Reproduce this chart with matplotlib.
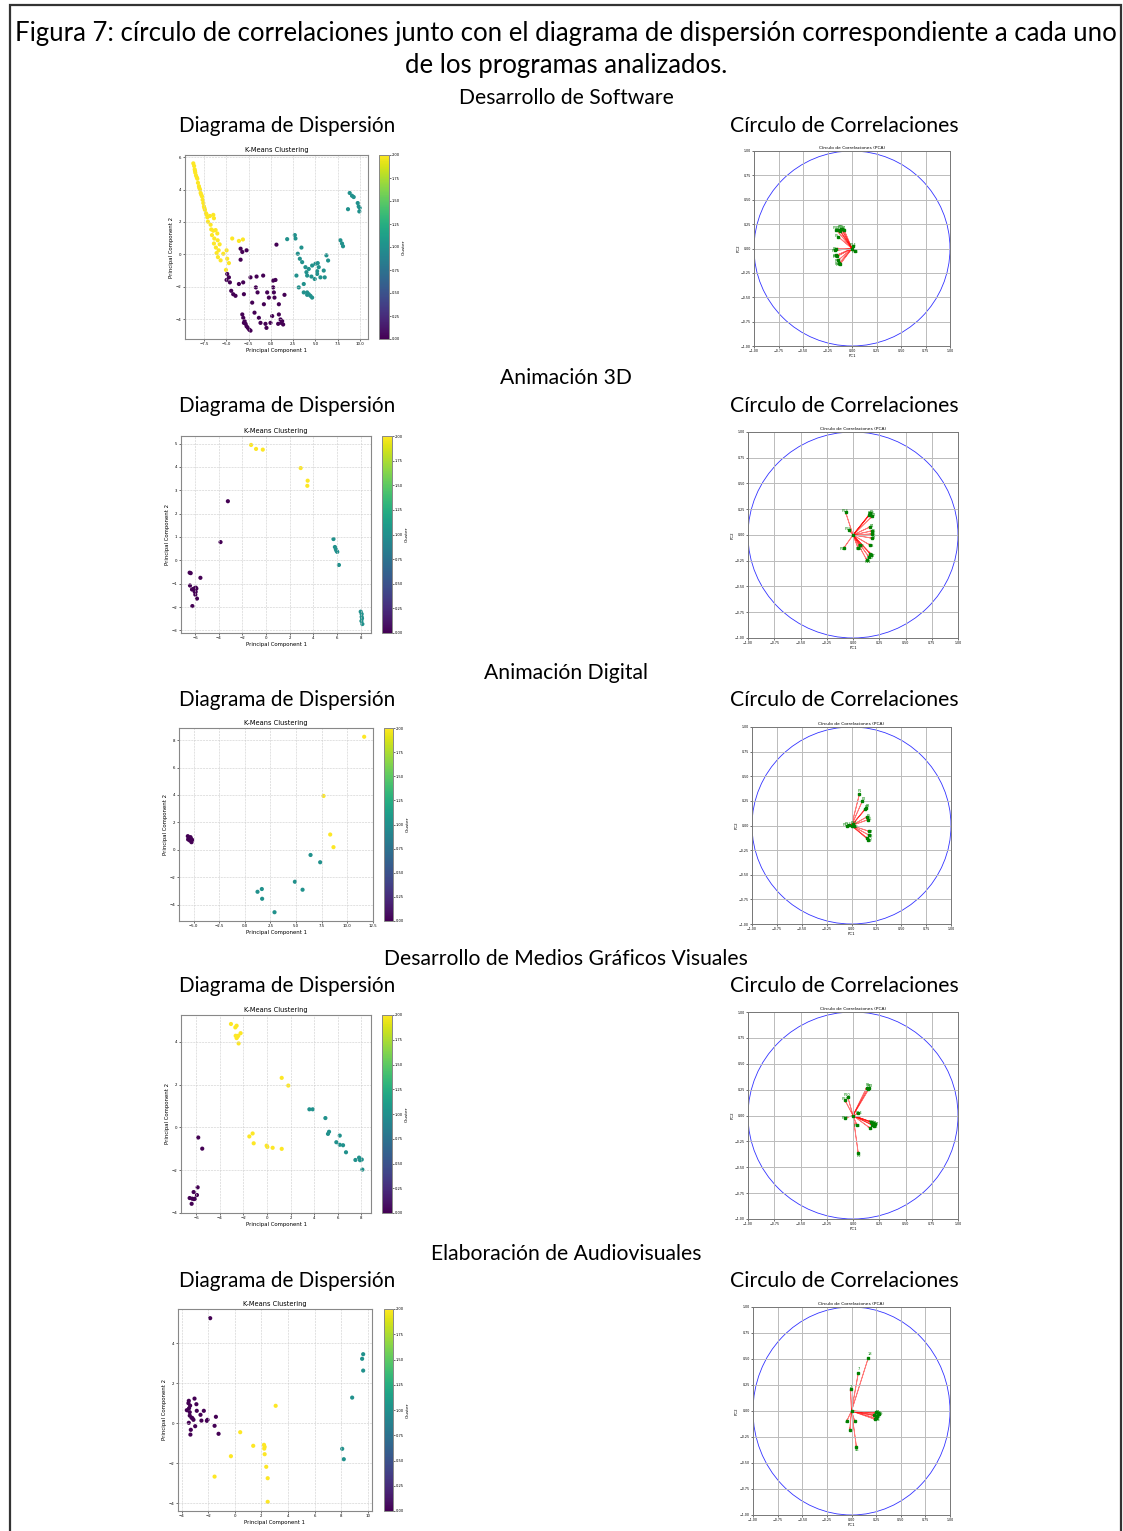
import numpy as np
import matplotlib.pyplot as plt
from matplotlib.patches import Circle, Rectangle

W, H = 1123, 1531
TXT_FONT = ['Lato', 'DejaVu Sans']

# ---- Desarrollo de Software ----
sw_x0 = [-3.39, -3.2, -2.72, -3.39, 0.63, -4.89, -4.7, -4.96, -4.59, -4.44, -4.22, -3.96, -3.58, -3.1,
         -3.02, -2.28, -1.6, -0.86, -1.68, -1.49, -2.09, -0.78, -0.22, 0.26, 0.52, 0.26, 0.34, 0.41, 1.53,
         -0.41, 0.9, -3.2, -3.09, -2.94, -2.83, -2.72, -2.57, -2.42, -2.28, -3.02, -1.83, -1.34, -1.16,
         -0.6, -0.49, -0.04, 0.15, 0.9, 1.08, 1.16, 1.38, 1.27, 0.82]
sw_y0 = [0.35, 0.15, 0.25, -0.33, 0.6, -1.21, -1.42, -1.58, -1.73, -2.25, -2.46, -2.56, -1.83, -1.73,
         -2.46, -1.42, -1.37, -1.31, -2.04, -2.35, -2.98, -3.08, -2.67, -1.62, -1.58, -2.04, -2.35, -2.67,
         -2.5, -2.35, -3.08, -3.71, -3.92, -4.12, -4.29, -4.44, -4.54, -4.65, -4.71, -4.23, -3.6, -3.92,
         -4.23, -4.29, -4.54, -4.23, -3.81, -3.71, -4.02, -4.23, -4.33, -4.12, -4.29]
sw_x1 = [1.83, 2.69, 2.76, 3.43, 3.02, 3.25, 3.51, 2.87, 3.13, 3.69, 3.88, 3.99, 4.07, 4.25, 4.63, 5.0,
         5.26, 5.37, 5.19, 5.19, 4.92, 4.55, 6.23, 6.42, 5.93, 6.04, 5.56, 4.07, 4.25, 4.44, 4.07, 4.63,
         3.69, 7.8, 7.98, 8.09, 8.84, 9.1, 9.29, 8.65, 9.74, 9.85, 9.92, 9.96]
sw_y1 = [0.94, 1.19, 0.98, 0.42, 0.04, -0.27, -0.48, -1.31, -2.04, -1.83, -0.79, -1.1, -1.31, -0.9,
         -0.69, -0.58, -0.54, -0.79, -1.04, -1.21, -1.52, -1.37, -0.06, -0.38, -1.0, -1.42, -1.42, -2.35,
         -2.46, -2.56, -2.5, -2.67, -2.35, 0.87, 0.67, 0.5, 3.79, 3.62, 3.54, 2.79, 3.17, 2.96, 2.65, 2.87]
sw_x2 = [-8.69, -8.6, -8.54, -8.47, -8.39, -8.24, -8.17, -8.06, -7.94, -7.87, -7.72, -7.65, -7.57, -7.5,
         -7.39, -7.27, -7.12, -7.05, -6.83, -6.45, -6.38, -6.68, -6.45, -6.19, -6.0, -6.6, -6.34, -5.96,
         -5.74, -6.38, -6.16, -6.08, -5.93, -5.63, -5.33, -4.96, -4.89, -4.7, -5.03, -4.33, -3.58, -3.13,
         -8.5, -8.3, -8.02, -7.8, -7.45, -7.2, -6.75, -5.85]
sw_y2 = [5.62, 5.46, 5.25, 5.04, 4.87, 4.67, 4.42, 4.21, 4.0, 3.79, 3.58, 3.37, 3.17, 2.96, 2.75, 2.54,
         2.29, 2.02, 2.37, 2.44, 2.23, 1.54, 1.46, 1.5, 1.29, 1.19, 0.98, 0.87, 0.62, 0.67, 0.42, 0.08,
         -0.17, -0.37, 0.04, 0.25, -0.27, -0.54, -0.96, 0.98, 0.83, 0.92,
         5.15, 4.75, 4.1, 3.68, 2.86, 2.46, 1.83, 0.25]
sw_xticks = [-7.5, -5.0, -2.5, 0.0, 2.5, 5.0, 7.5, 10.0]
sw_yticks = [-4, -2, 0, 2, 4, 6]
sw_load_x = [-0.16, -0.13, -0.11, -0.08, -0.14, -0.16, -0.17, -0.16, -0.14, -0.13, -0.12, -0.15, 0.03, 0.01, -0.10, -0.12]
sw_load_y = [0.19, 0.19, 0.20, 0.19, 0.12, 0.0, -0.02, -0.07, -0.12, -0.15, -0.16, -0.08, -0.03, 0.03, 0.20, 0.18]
sw_vars = ['P1', 'P2', 'P3', 'P4', 'P5', 'P6', 'P7', 'P8', 'P9', 'P10', 'P11', 'P12', 'P13', 'P14', 'P15', 'P16']

# ---- Animación 3D ----
a3_x0 = [-3.23, -3.85, -6.46, -6.37, -5.55, -6.43, -6.26, -6.09, -5.95, -5.89, -6.03, -5.98, -5.95, -5.84, -6.23, -6.17]
a3_y0 = [2.53, 0.78, -0.53, -0.55, -0.75, -1.08, -1.25, -1.21, -1.17, -1.21, -1.35, -1.47, -1.35, -1.64, -1.96, -1.24]
a3_x1 = [5.69, 5.81, 5.89, 5.95, 6.01, 6.15, 7.99, 8.07, 8.1, 8.05, 8.13, 8.07]
a3_y1 = [0.91, 0.57, 0.47, 0.4, 0.36, -0.2, -2.2, -2.42, -2.49, -2.6, -2.73, -2.3]
a3_x2 = [-1.27, -0.85, -0.28, 2.92, 3.51, 3.48]
a3_y2 = [4.94, 4.77, 4.74, 3.95, 3.41, 3.19]
a3_xticks = [-6, -4, -2, 0, 2, 4, 6, 8]
a3_yticks = [-3, -2, -1, 0, 1, 2, 3, 4, 5]
a3_load_x = [0.165, 0.18, 0.15, 0.165, 0.18, 0.18, 0.18, 0.165, 0.165, 0.15, 0.13, 0.07, -0.07, -0.09, -0.04, 0.05, 0.17, 0.16]
a3_load_y = [0.21, 0.18, 0.19, 0.08, 0.04, 0.01, -0.03, -0.10, -0.18, -0.21, -0.24, -0.10, 0.22, -0.13, 0.05, -0.13, -0.19, 0.20]
a3_vars = ['P1', 'P2', 'P3', 'P4', 'P5', 'P6', 'P7', 'P8', 'P9', 'P10', 'P11', 'P12', 'P13', 'P14', 'P15', 'P16', 'P17', 'P18']

# ---- Animación Digital ----
ad_x0 = [-5.57, -5.47, -5.31, -5.37, -5.21, -5.15, -5.54, -5.24]
ad_y0 = [1.0, 0.85, 0.93, 0.68, 0.56, 0.73, 0.76, 0.8]
ad_x1 = [6.42, 7.36, 4.89, 5.64, 1.24, 1.66, 1.69, 2.9]
ad_y1 = [-0.37, -0.9, -2.32, -2.9, -3.05, -2.85, -3.56, -4.54]
ad_x2 = [11.66, 7.69, 8.34, 8.66]
ad_y2 = [8.24, 3.93, 1.12, 0.2]
ad_xticks = [-5.0, -2.5, 0.0, 2.5, 5.0, 7.5, 10.0, 12.5]
ad_yticks = [-4, -2, 0, 2, 4, 6, 8]
ad_load_x = [0.08, 0.11, 0.15, 0.14, 0.16, 0.17, 0.18, 0.18, 0.17, 0.16, -0.05, 0.03, -0.03, 0.02]
ad_load_y = [0.32, 0.25, 0.18, 0.17, 0.09, 0.06, -0.06, -0.10, -0.145, -0.13, 0.0, -0.01, 0.01, 0.02]
ad_vars = ['P1', 'P2', 'P3', 'P4', 'P5', 'P6', 'P7', 'P8', 'P9', 'P10', 'P11', 'P12', 'P13', 'P14']

# ---- Desarrollo de Medios Gráficos Visuales ----
mg_x0 = [-5.84, -5.5, -5.89, -6.23, -5.95, -6.57, -6.35, -6.2, -6.12, -6.4]
mg_y0 = [-0.47, -0.99, -2.8, -3.02, -3.16, -3.3, -3.33, -3.35, -3.33, -3.57]
mg_x1 = [3.6, 3.88, 4.96, 5.18, 5.27, 6.18, 5.89, 6.18, 6.46, 6.71, 7.51, 7.82, 7.9, 8.05, 8.1]
mg_y1 = [0.85, 0.85, 0.44, -0.3, -0.2, -0.38, -0.69, -0.81, -0.83, -1.16, -1.52, -1.41, -1.53, -1.5, -1.97]
mg_x2 = [-3.06, -2.69, -2.58, -2.66, -2.52, -2.58, -2.44, -2.24, -2.41, 1.25, 1.81, -1.5, -1.22, -1.13, -0.03, 0.03, 0.48, 1.25]
mg_y2 = [4.84, 4.68, 4.76, 4.29, 4.24, 4.18, 4.29, 4.41, 3.93, 2.32, 1.96, -0.42, -0.28, -0.74, -0.85, -0.91, -0.95, -1.0]
mg_xticks = [-6, -4, -2, 0, 2, 4, 6, 8]
mg_yticks = [-4, -2, 0, 2, 4]
mg_load_x = [0.13, 0.156, 0.14, 0.19, 0.18, 0.16, 0.21, 0.20, 0.05, -0.05, -0.075, -0.075, 0.035, 0.05, 0.17]
mg_load_y = [0.27, 0.265, 0.26, -0.07, -0.09, -0.12, -0.08, -0.10, -0.365, 0.18, 0.145, -0.025, -0.09, 0.02, -0.06]
mg_vars = ['P1', 'P2', 'P3', 'P4', 'P5', 'P6', 'P7', 'P8', 'P9', 'P10', 'P11', 'P12', 'P13', 'P14', 'P15']

# ---- Elaboración de Audiovisuales ----
ea_x0 = [-1.86, -3.47, -3.04, -3.5, -3.62, -3.37, -2.9, -3.45, -3.4, -2.87, -2.34, -2.59, -3.4, -3.27,
         -3.12, -3.47, -2.52, -2.11, -2.06, -3.32, -3.35, -2.99, -1.53, -1.43, -1.23, -3.2]
ea_y0 = [5.25, 1.12, 1.23, 1.0, 0.65, 0.88, 0.95, 0.75, 0.55, 0.62, 0.62, 0.42, 0.38, 0.28, 0.17, 0.02,
         0.13, 0.12, 0.17, -0.33, -0.57, -0.15, -0.13, 0.32, -0.53, 0.25]
ea_x1 = [9.66, 9.58, 9.66, 8.83, 8.08, 8.2]
ea_y1 = [3.45, 3.22, 2.63, 1.28, -1.28, -1.8]
ea_x2 = [3.07, 0.4, 1.38, 2.19, 2.24, 2.21, 2.24, -0.3, 2.36, 2.47, -1.53, 2.47]
ea_y2 = [0.87, -0.45, -1.13, -1.08, -1.18, -1.27, -1.55, -1.65, -2.18, -2.75, -2.67, -3.93]
ea_xticks = [-4, -2, 0, 2, 4, 6, 8, 10]
ea_yticks = [-4, -2, 0, 2, 4]
ea_load_x = [0.17, 0.07, -0.01, 0.25, 0.27, 0.25, 0.23, 0.26, 0.28, 0.05, -0.017, -0.05, 0.034, 0.24]
ea_load_y = [0.51, 0.37, 0.21, -0.01, -0.02, -0.07, -0.04, -0.05, -0.03, -0.345, -0.18, -0.10, -0.10, -0.08]
ea_vars = ['18', '7', '2', 'P4', 'P5', 'P6', 'P7', 'P8', 'P9', '45', '1', '4', '3', 'P14']

sections = ['Desarrollo de Software', 'Animación 3D', 'Animación Digital',
            'Desarrollo de Medios Gráficos Visuales', 'Elaboración de Audiovisuales']
circle_titles = ['Círculo de Correlaciones', 'Círculo de Correlaciones', 'Círculo de Correlaciones',
                 'Circulo de Correlaciones', 'Circulo de Correlaciones']


def box(l, t, r, b):
    return [l / W, 1 - b / H, (r - l) / W, (b - t) / H]


def draw_scatter(fig, rect, crect, xs, ys, xticks, yticks):
    ax = fig.add_axes(box(*rect))
    x = np.concatenate(xs)
    y = np.concatenate(ys)
    c = np.concatenate([np.full(len(v), k) for k, v in enumerate(xs)])
    sc = ax.scatter(x, y, c=c, cmap='viridis', s=9, vmin=0, vmax=2, linewidths=0)
    ax.set_xticks(xticks)
    ax.set_yticks(yticks)
    ax.set_title('K-Means Clustering', fontsize=4.8, pad=2)
    ax.set_xlabel('Principal Component 1', fontsize=3.9, labelpad=1)
    ax.set_ylabel('Principal Component 2', fontsize=3.9, labelpad=1)
    ax.tick_params(labelsize=2.8, length=1.5, width=0.4, pad=1)
    ax.grid(True, linestyle='--', linewidth=0.4, color='#cccccc')
    for s in ax.spines.values():
        s.set_linewidth(0.8)
        s.set_color('#888888')
    cax = fig.add_axes(box(*crect))
    cb = fig.colorbar(sc, cax=cax, ticks=np.arange(0, 2.01, 0.25), format='%.2f')
    cb.set_label('Cluster', fontsize=3.2, labelpad=1)
    cb.ax.tick_params(labelsize=2.6, length=1.2, width=0.4, pad=1)
    cb.outline.set_linewidth(0.7)
    cb.outline.set_edgecolor('#888888')


def draw_circle(fig, rect, lx, ly, names):
    ax = fig.add_axes(box(*rect))
    ax.add_patch(Circle((0, 0), 1, fill=False, color='b', linewidth=0.6, alpha=0.8))
    for x, y, n in zip(lx, ly, names):
        ax.arrow(0, 0, x, y, color='r', alpha=0.5, linewidth=0.6, head_width=0.012, length_includes_head=True)
        ax.text(x * 1.08, y * 1.08, n, color='g', fontsize=2.6, ha='center', va='center')
    ax.plot(lx, ly, 's', color='g', markersize=1.6, linewidth=0)
    ax.plot([0], [0], 's', color='g', markersize=2.0)
    ax.set_xlim(-1, 1)
    ax.set_ylim(-1, 1)
    ticks = np.arange(-1, 1.01, 0.25)
    ax.set_xticks(ticks)
    ax.set_yticks(ticks)
    ax.set_title('Círculo de Correlaciones (PCA)', fontsize=3.2, pad=1.5)
    ax.set_xlabel('PC1', fontsize=2.8, labelpad=0.5)
    ax.set_ylabel('PC2', fontsize=2.8, labelpad=0.5)
    ax.tick_params(labelsize=2.3, length=1.2, width=0.4, pad=1)
    ax.grid(True, color='#bbbbbb', linewidth=0.7)
    for s in ax.spines.values():
        s.set_linewidth(0.7)
        s.set_color('#777777')


fig = plt.figure(figsize=(W / 100, H / 100), dpi=100)
fig.patch.set_facecolor('white')

fig.add_artist(Rectangle((10 / W, -0.01), (1121 - 10) / W, 1.01 - 5 / H, transform=fig.transFigure,
                         fill=False, edgecolor='#333333', linewidth=1.6))

fig.text(566 / W, 1 - 34 / H,
         'Figura 7: círculo de correlaciones junto con el diagrama de dispersión correspondiente a cada uno',
         ha='center', va='center', fontsize=18.5, family=TXT_FONT)
fig.text(566 / W, 1 - 66 / H, 'de los programas analizados.',
         ha='center', va='center', fontsize=18.5, family=TXT_FONT)

section_y = [98, 378, 673, 959, 1254]
sub_y = [126, 406, 700, 986, 1281]
for name, sy, uy, ct in zip(sections, section_y, sub_y, circle_titles):
    fig.text(566 / W, 1 - sy / H, name, ha='center', va='center', fontsize=15.2, family=TXT_FONT)
    fig.text(287 / W, 1 - uy / H, 'Diagrama de Dispersión', ha='center', va='center', fontsize=14.9, family=TXT_FONT)
    fig.text(844 / W, 1 - uy / H, ct, ha='center', va='center', fontsize=15.3, family=TXT_FONT)

draw_scatter(fig, (185, 155, 368, 339), (379, 155, 389, 339), [sw_x0, sw_x1, sw_x2], [sw_y0, sw_y1, sw_y2], sw_xticks, sw_yticks)
draw_circle(fig, (754, 151, 950, 346), sw_load_x, sw_load_y, sw_vars)

draw_scatter(fig, (181, 436, 371, 633), (382, 436, 392, 633), [a3_x0, a3_x1, a3_x2], [a3_y0, a3_y1, a3_y2], a3_xticks, a3_yticks)
draw_circle(fig, (748, 432, 958, 638), a3_load_x, a3_load_y, a3_vars)

draw_scatter(fig, (179, 728, 373, 921), (384, 728, 393, 921), [ad_x0, ad_x1, ad_x2], [ad_y0, ad_y1, ad_y2], ad_xticks, ad_yticks)
draw_circle(fig, (752, 727, 951, 924), ad_load_x, ad_load_y, ad_vars)

draw_scatter(fig, (181, 1015, 371, 1213), (382, 1015, 392, 1213), [mg_x0, mg_x1, mg_x2], [mg_y0, mg_y1, mg_y2], mg_xticks, mg_yticks)
draw_circle(fig, (748, 1012, 958, 1219), mg_load_x, mg_load_y, mg_vars)

draw_scatter(fig, (178, 1309, 372, 1511), (384, 1309, 393, 1511), [ea_x0, ea_x1, ea_x2], [ea_y0, ea_y1, ea_y2], ea_xticks, ea_yticks)
draw_circle(fig, (753, 1307, 950, 1515), ea_load_x, ea_load_y, ea_vars)

fig.savefig('out.png', dpi=100, facecolor='white')
